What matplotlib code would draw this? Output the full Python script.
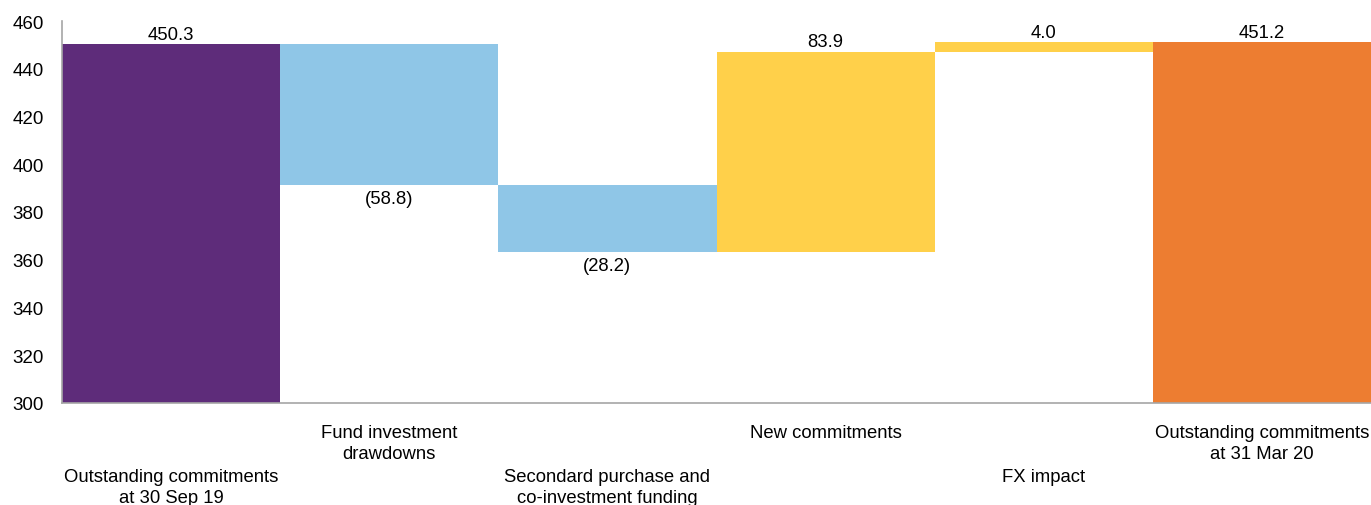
import numpy as np
import matplotlib.pyplot as plt

plt.rcParams['font.family'] = ['Liberation Sans', 'DejaVu Sans']

categories = ["Outstanding commitments\nat 30 Sep 19", "Fund investment\ndrawdowns",
              "Secondard purchase and\nco-investment funding", "New commitments",
              "FX impact", "Outstanding commitments\nat 31 Mar 20"]
changes = [450.3, -58.8, -28.2, 83.9, 4.0, 451.2]
kinds = ["total", "delta", "delta", "delta", "delta", "total"]
labels = ["450.3", "(58.8)", "(28.2)", "83.9", "4.0", "451.2"]
colors = ["#5E2C7A", "#8FC6E7", "#8FC6E7", "#FFD04A", "#FFD04A", "#ED7D31"]

BASE = 300
bottoms, heights = [], []
running = 0.0
for v, k in zip(changes, kinds):
    if k == "total":
        running = v
        bottoms.append(BASE)
        heights.append(v - BASE)
    else:
        start = running
        running += v
        bottoms.append(min(start, running))
        heights.append(abs(v))

fig = plt.figure(figsize=(13.71, 5.06), dpi=100)
ax = fig.add_axes([62 / 1371, 1 - 404 / 506, 1309 / 1371, 382 / 506])

x = np.arange(len(categories))
ax.bar(x, heights, bottom=bottoms, width=1.0, color=colors, linewidth=0)

for i, (b, h, lab) in enumerate(zip(bottoms, heights, labels)):
    if changes[i] < 0:
        ax.annotate(lab, (x[i], b), xytext=(0, -4), textcoords="offset points",
                    ha="center", va="top", fontsize=13.3)
    else:
        ax.annotate(lab, (x[i], b + h), xytext=(0, 1), textcoords="offset points",
                    ha="center", va="bottom", fontsize=13.3)

ax.set_xlim(-0.5, len(categories) - 0.5)
ax.set_ylim(300, 460)
ax.set_yticks(np.arange(300, 461, 20))
ax.tick_params(axis="y", length=0, labelsize=13.5, pad=13)
ax.set_xticks([])

# staggered category labels under the axis
for i, cat in enumerate(categories):
    off = -0.055 if i in (1, 3, 5) else -0.17
    ax.text(x[i], off, cat, transform=ax.get_xaxis_transform(), ha="center", va="top",
            fontsize=13.3, linespacing=1.3)

for s in ["top", "right"]:
    ax.spines[s].set_visible(False)
for s in ["left", "bottom"]:
    ax.spines[s].set_color("#A6A6A6")
    ax.spines[s].set_linewidth(1.2)

fig.savefig("out.png", dpi=100)
